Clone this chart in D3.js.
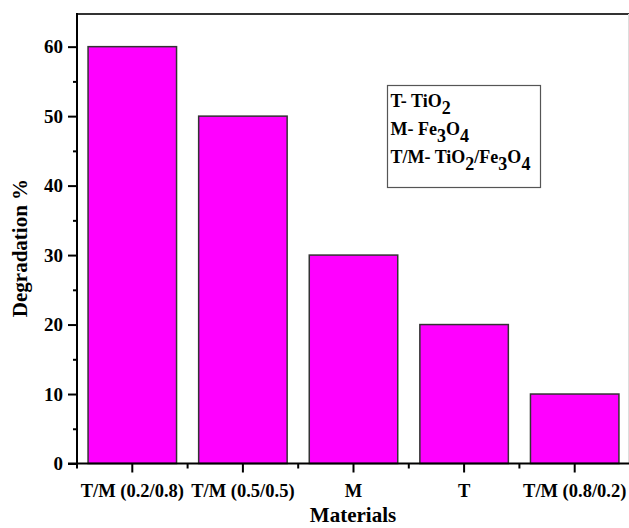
<!DOCTYPE html>
<html><head><meta charset="utf-8">
<script src="https://cdn.jsdelivr.net/npm/d3@7/dist/d3.min.js"></script>
<style>body{margin:0;background:#fff}svg{display:block}text{font-family:"Liberation Serif","Times New Roman",serif;font-weight:bold}</style>
</head><body><svg id="c" width="629" height="528"></svg>
<script>
const categories = ["T/M (0.2/0.8)", "T/M (0.5/0.5)", "M", "T", "T/M (0.8/0.2)"];
const values = [60, 50, 30, 20, 10];
const yTicks = [0, 10, 20, 30, 40, 50, 60];
const yMinorTicks = [5, 15, 25, 35, 45, 55];
const legendLines = [
  [["T- TiO", 0], ["2", 1]],
  [["M- Fe", 0], ["3", 1], ["O", 0], ["4", 1]],
  [["T/M- TiO", 0], ["2", 1], ["/Fe", 0], ["3", 1], ["O", 0], ["4", 1]]
];

const svg = d3.select("#c");
const L = 77, R = 630, T = 14, B = 463.5;
const x = d3.scaleBand().domain(categories).range([L, R]).paddingInner(0.2).paddingOuter(0.1);
const y = d3.scaleLinear().domain([0, 64.7]).range([B, T]);

// frame top/right
svg.append("line").attr("x1", L).attr("x2", 629).attr("y1", T).attr("y2", T).attr("stroke", "#333").attr("stroke-width", 2);
svg.append("line").attr("x1", 628.5).attr("x2", 628.5).attr("y1", T).attr("y2", B).attr("stroke", "#ddd").attr("stroke-width", 1);

// bars
svg.selectAll("rect.bar").data(values).join("rect").attr("class", "bar")
  .attr("x", (d, i) => x(categories[i]))
  .attr("y", d => y(d))
  .attr("width", x.bandwidth())
  .attr("height", d => y(0) - y(d))
  .attr("fill", "#FF00FF").attr("stroke", "#333").attr("stroke-width", 1.5);

// y axis
const yAxis = d3.axisLeft(y).tickValues(yTicks).tickSize(9).tickPadding(5).tickFormat(d3.format("d"));
const gy = svg.append("g").attr("transform", `translate(${L},0)`).call(yAxis);
gy.select(".domain").remove();
gy.selectAll(".tick line").attr("stroke", "#000").attr("stroke-width", 2);
gy.selectAll(".tick text").attr("font-size", 19).attr("fill", "#000").attr("font-family", "Liberation Serif").attr("font-weight", "bold");
const gym = svg.append("g").attr("transform", `translate(${L},0)`).call(d3.axisLeft(y).tickValues(yMinorTicks).tickSize(4).tickFormat(""));
gym.select(".domain").remove();
gym.selectAll(".tick line").attr("stroke", "#000").attr("stroke-width", 2);

// x axis
const xAxis = d3.axisBottom(x).tickSize(9).tickPadding(11);
const gx = svg.append("g").attr("transform", `translate(0,${B})`).call(xAxis);
gx.select(".domain").remove();
gx.selectAll(".tick line").attr("stroke", "#000").attr("stroke-width", 2);
gx.selectAll(".tick text").attr("font-size", 18.5).attr("fill", "#000").attr("font-family", "Liberation Serif").attr("font-weight", "bold");
const bounds = categories.map(c => x(c) - x.step() * x.paddingInner() / 2).concat([R]);
bounds[0] = L;
svg.append("g").selectAll("line").data(bounds).join("line")
  .attr("x1", d => d).attr("x2", d => d).attr("y1", B).attr("y2", B + 5)
  .attr("stroke", "#000").attr("stroke-width", 2);

// axis lines
svg.append("line").attr("x1", L).attr("x2", L).attr("y1", T - 1).attr("y2", B + 1).attr("stroke", "#000").attr("stroke-width", 2);
svg.append("line").attr("x1", L - 9).attr("x2", 629).attr("y1", B).attr("y2", B).attr("stroke", "#000").attr("stroke-width", 2);

// titles
svg.append("text").attr("x", 353).attr("y", 522).attr("text-anchor", "middle").attr("font-size", 21).text("Materials");
svg.append("text").attr("transform", "translate(27,248) rotate(-90)").attr("text-anchor", "middle").attr("font-size", 21).text("Degradation %");

// legend box
svg.append("rect").attr("x", 387.5).attr("y", 85.5).attr("width", 153).attr("height", 102)
  .attr("fill", "#fff").attr("stroke", "#555").attr("stroke-width", 1.2);
const lg = svg.append("g");
legendLines.forEach((parts, i) => {
  const t = lg.append("text").attr("x", 390.5).attr("y", 107 + i * 28).attr("font-size", 18);
  parts.forEach(([s, sub], j) => {
    const prev = j > 0 ? parts[j - 1][1] : 0;
    const dy = sub && !prev ? 7 : (!sub && prev ? -7 : 0);
    t.append("tspan").attr("dy", dy).attr("font-size", 18).text(s);
  });
});
</script></body></html>
